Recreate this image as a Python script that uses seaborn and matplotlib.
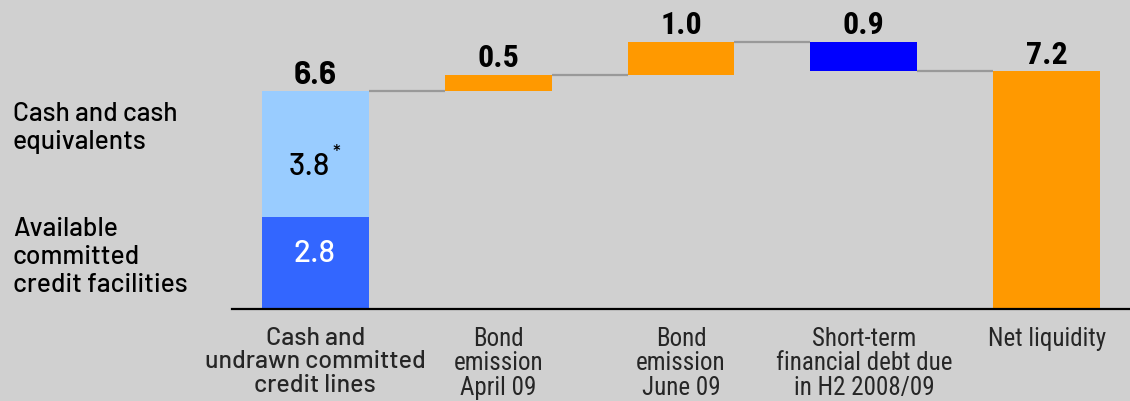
import matplotlib
matplotlib.use("Agg")
import matplotlib.pyplot as plt
import seaborn as sns
import pandas as pd

# ---- data ----
categories = ["Cash and\nundrawn committed\ncredit lines",
              "Bond\nemission\nApril 09",
              "Bond\nemission\nJune 09",
              "Short-term\nfinancial debt due\nin H2 2008/09",
              "Net liquidity"]
credit_facilities = 2.8
cash_equivalents = 3.8
changes = [0.5, 1.0, -0.9]
net_liquidity = 7.2
value_labels = ["6.6", "0.5", "1.0", "0.9", "7.2"]
segment_names = ["Available\ncommitted\ncredit facilities", "Cash and cash\nequivalents"]
segment_values = ["2.8", "3.8"]

# ---- style ----
BG = "#D0D0D0"
C_LIGHT = "#99CCFF"
C_MID = "#3366FF"
C_ORANGE = "#FF9900"
C_BLUE = "#0000FF"
C_CONN = "#999999"
REG = ["Barlow", "DejaVu Sans"]
NARROW = ["Roboto Condensed", "DejaVu Sans"]

sns.set_theme(style="white")
plt.rcParams["font.family"] = ["Barlow", "DejaVu Sans"]

fig = plt.figure(figsize=(11.3, 4.02), dpi=100, facecolor=BG)
ax = fig.add_axes([232 / 1130, 92 / 402, 898 / 1130, 310 / 402])
ax.set_facecolor(BG)

W = 0.585

# build bar table
start_total = credit_facilities + cash_equivalents
rows = []
rows.append((categories[0], 0.0, credit_facilities, C_MID))
rows.append((categories[0], credit_facilities, cash_equivalents, C_LIGHT))
running = start_total
levels = [running]
tops = [start_total]
for cat, ch in zip(categories[1:4], changes):
    if ch >= 0:
        rows.append((cat, running, ch, C_ORANGE))
        tops.append(running + ch)
    else:
        rows.append((cat, running + ch, -ch, C_BLUE))
        tops.append(running)
    running += ch
    levels.append(running)
rows.append((categories[4], 0.0, net_liquidity, C_ORANGE))
tops.append(net_liquidity)

for cat, bottom, height, color in rows:
    df = pd.DataFrame({"cat": [cat], "val": [height]})
    sns.barplot(data=df, x="cat", y="val", order=categories, color=color,
                width=W, errorbar=None, bottom=bottom, saturation=1,
                linewidth=0, ax=ax)

# connectors
for i, lvl in enumerate(levels):
    ax.hlines(lvl, i + W / 2, i + 1 - W / 2, color=C_CONN, lw=1.6, zorder=1)

# value labels
for i, (lab, top) in enumerate(zip(value_labels, tops)):
    fam = REG if i == 0 else NARROW
    ax.annotate(lab, (i, top), xytext=(0, 6), textcoords="offset points",
                ha="center", va="baseline", fontsize=23,
                fontweight="bold", family=fam, color="black")

# inner segment labels
ax.annotate(segment_values[0], (0, credit_facilities * 0.52), xytext=(-1, 0),
            textcoords="offset points", ha="center", va="baseline",
            fontsize=22.5, fontweight=500, color="white", family=REG)
y38 = credit_facilities + cash_equivalents * 0.34
ax.annotate(segment_values[1], (0, y38), xytext=(-4, 0),
            textcoords="offset points", ha="center", va="baseline",
            fontsize=22.5, fontweight=500, color="black", family=REG)
ax.annotate("*", (0, y38), xytext=(15, 15), textcoords="offset points",
            ha="center", va="center", fontsize=14, fontweight=500,
            color="black", family=REG)

# left-side legend labels
fig.text(13 / 1130, 1 - 102 / 402, segment_names[1], ha="left", va="top",
         fontsize=19, fontweight=500, linespacing=1.2, family=REG, color="black")
fig.text(13 / 1130, 1 - 217 / 402, segment_names[0], ha="left", va="top",
         fontsize=19, fontweight=500, linespacing=1.2, family=REG, color="black")

# axes
ax.set_xlim(-0.456, 4.456)
ax.set_ylim(0, 9.39)
ax.set_xlabel("")
ax.set_ylabel("")
ax.set_yticks([])
ax.set_xticks(range(len(categories)))
ax.set_xticklabels(categories)
ax.tick_params(axis="x", length=0, pad=12)
for i, t in enumerate(ax.get_xticklabels()):
    t.set_family(REG if i == 0 else NARROW)
    t.set_fontsize(18)
    if i == 0:
        t.set_fontweight(500)
    t.set_linespacing(1.03)
    t.set_verticalalignment("top")
for s in ["left", "right", "top"]:
    ax.spines[s].set_visible(False)
ax.spines["bottom"].set_color("black")
ax.spines["bottom"].set_linewidth(1.6)

fig.savefig("out.png", dpi=100, facecolor=BG)
